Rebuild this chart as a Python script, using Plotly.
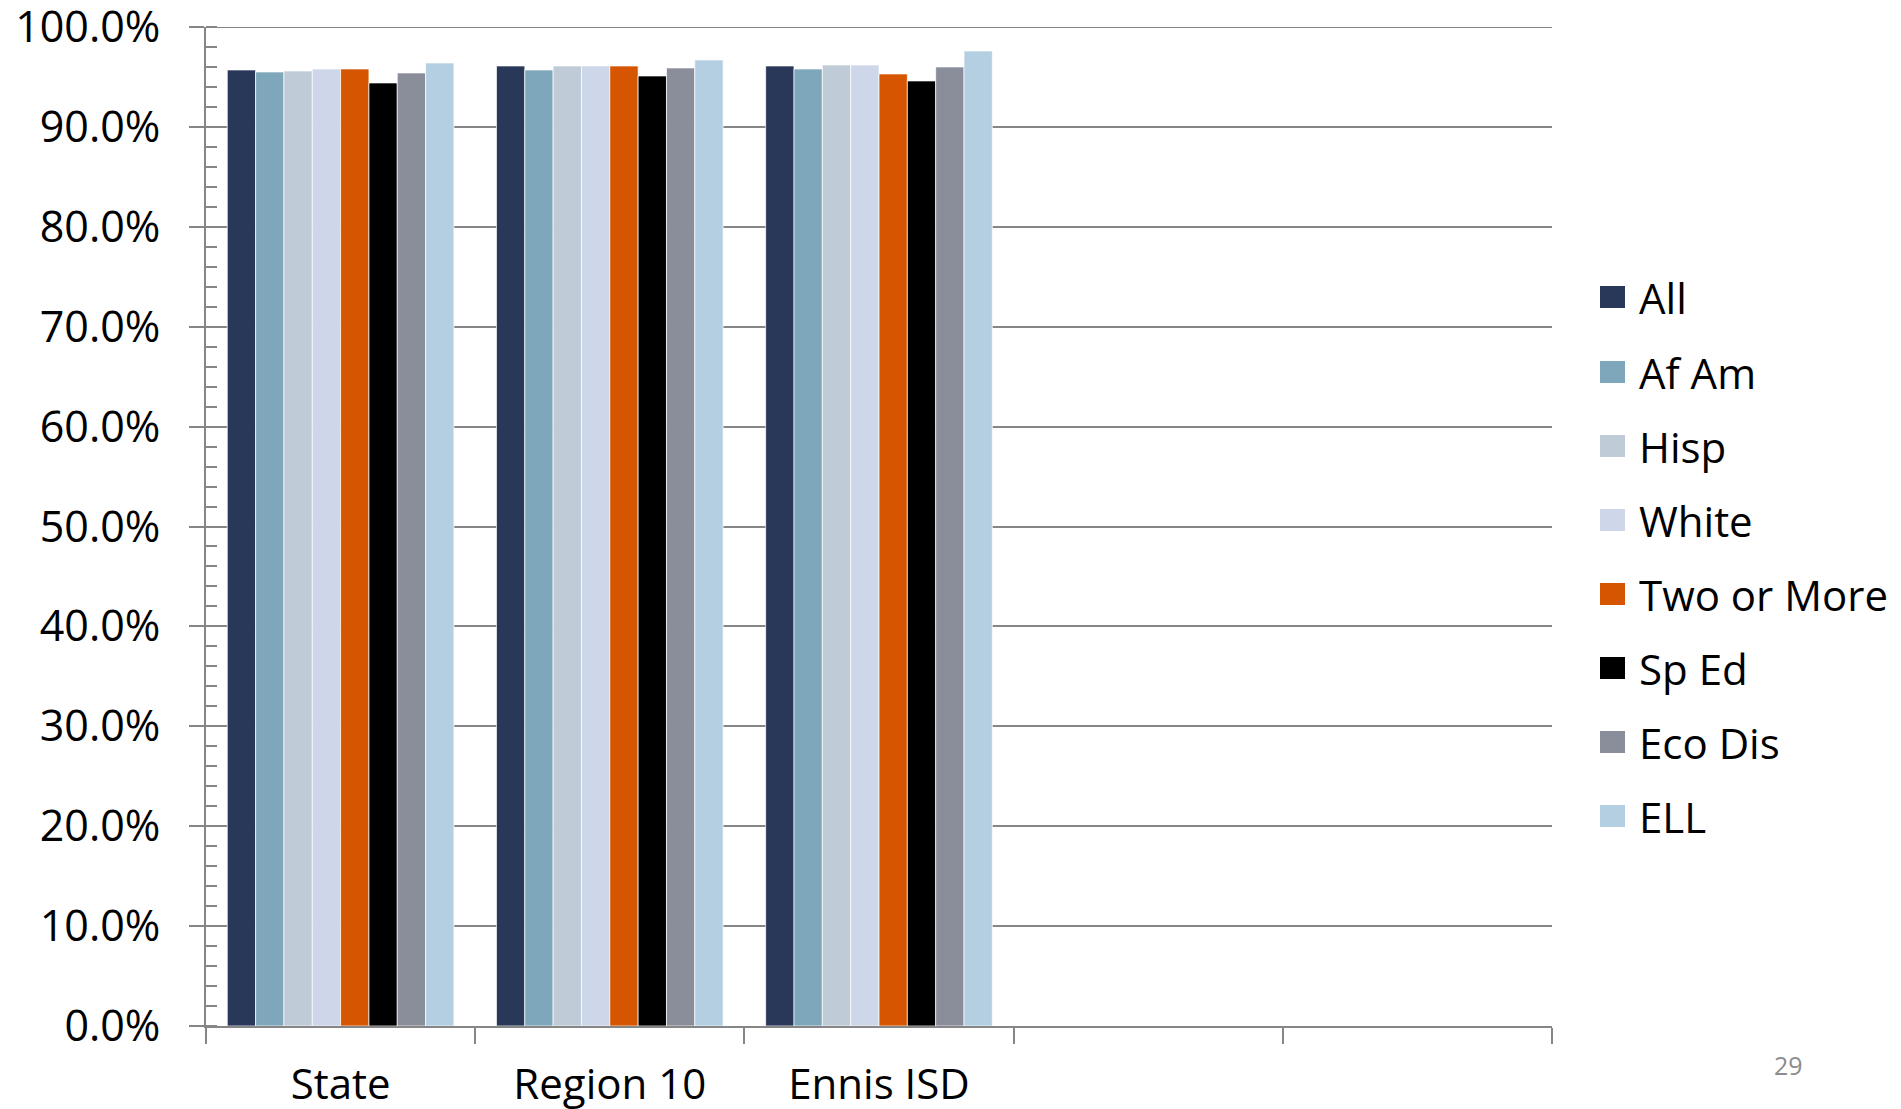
import plotly.graph_objects as go

categories = ["State", "Region 10", "Ennis ISD", " ", "  "]
series_names = ["All", "Af Am", "Hisp", "White", "Two or More", "Sp Ed", "Eco Dis", "ELL"]
series_colors = ["#293859", "#7EA7BC", "#BFCBD7", "#CED7E9", "#D55500", "#000000", "#8A8D9A", "#B3CFE1"]

all_vals = [95.7, 96.1, 96.1]
afam_vals = [95.5, 95.7, 95.8]
hisp_vals = [95.6, 96.1, 96.2]
white_vals = [95.8, 96.1, 96.2]
two_vals = [95.8, 96.1, 95.3]
sped_vals = [94.4, 95.1, 94.6]
ecodis_vals = [95.4, 95.9, 96.0]
ell_vals = [96.4, 96.7, 97.6]

series_values = [all_vals, afam_vals, hisp_vals, white_vals, two_vals, sped_vals, ecodis_vals, ell_vals]
y_ticks = [0, 10, 20, 30, 40, 50, 60, 70, 80, 90, 100]
y_ticktext = [f"{v:.1f}%" for v in y_ticks]

FONT = "Open Sans"
OFF = 8  # page body margin offset
W, H = 1901 - OFF, 1109 - OFF
L, T = 206 - OFF, 27 - OFF
R = W - (1552 - OFF)
B = H - (1026 - OFF)
PW, PH = W - L - R, H - T - B

def px_x(px):
    return (px - OFF - L) / PW

def px_y(py):
    return (H - B - (py - OFF)) / PH

fig = go.Figure()
for name, color, vals in zip(series_names, series_colors, series_values):
    fig.add_trace(go.Bar(
        x=categories, y=vals + [None] * (len(categories) - len(vals)),
        name=name, marker=dict(color=color, line=dict(color="rgba(255,255,255,0.7)", width=1)),
        showlegend=False,
    ))

# top gridline (plotly drops grid lines lying on the range edge)
fig.add_shape(type="line", xref="paper", yref="y", x0=0, x1=1, y0=y_ticks[-1], y1=y_ticks[-1],
              line=dict(color="#868686", width=2), layer="below")

# manual legend (large square swatches)
leg_y = [297, 372, 446, 520, 594, 668, 742, 816]
for name, color, cy in zip(series_names, series_colors, leg_y):
    fig.add_shape(type="rect", xref="paper", yref="paper",
                  x0=px_x(1600), x1=px_x(1625), y0=px_y(cy + 11), y1=px_y(cy - 11),
                  fillcolor=color, line=dict(width=0))
    fig.add_annotation(xref="paper", yref="paper", x=px_x(1637), y=px_y(cy),
                       text=name, showarrow=False, xanchor="left", yanchor="middle",
                       font=dict(family=FONT, size=42, color="#000000"))

fig.add_annotation(xref="paper", yref="paper", x=px_x(1788), y=px_y(1065),
                   text="29", showarrow=False, xanchor="center", yanchor="middle",
                   font=dict(family=FONT, size=25, color="#8C8C8C"))

fig.update_layout(
    template="none",
    width=W, height=H,
    margin=dict(l=L, r=R, t=T, b=B, pad=0, autoexpand=False),
    paper_bgcolor="white", plot_bgcolor="white",
    barmode="group", bargap=0.158, bargroupgap=0,
    font=dict(family=FONT, color="#000000"),
)
fig.update_xaxes(
    type="category", categoryorder="array", categoryarray=categories,
    range=[-0.5, len(categories) - 0.5], automargin=False,
    tickson="boundaries", ticks="outside", ticklen=16, tickwidth=1.5, tickcolor="#868686",
    showline=True, linecolor="#868686", linewidth=2,
    showgrid=False, zeroline=False,
    tickfont=dict(family=FONT, size=42, color="#000000"),
    ticklabelstandoff=21, ticklabeloverflow="allow",
)
fig.update_yaxes(
    range=[0, 100], tickmode="array", tickvals=y_ticks, ticktext=y_ticktext, automargin=False,
    ticks="outside", ticklen=15, tickwidth=2, tickcolor="#868686",
    showline=True, linecolor="#868686", linewidth=2,
    showgrid=True, gridcolor="#868686", gridwidth=2, zeroline=False,
    minor=dict(dtick=2, tick0=0, ticks="inside", ticklen=11, tickcolor="#868686", tickwidth=1.5, showgrid=False),
    tickfont=dict(family=FONT, size=43, color="#000000"),
    ticklabelstandoff=20, ticklabeloverflow="allow",
)

fig.write_html("out.html")
